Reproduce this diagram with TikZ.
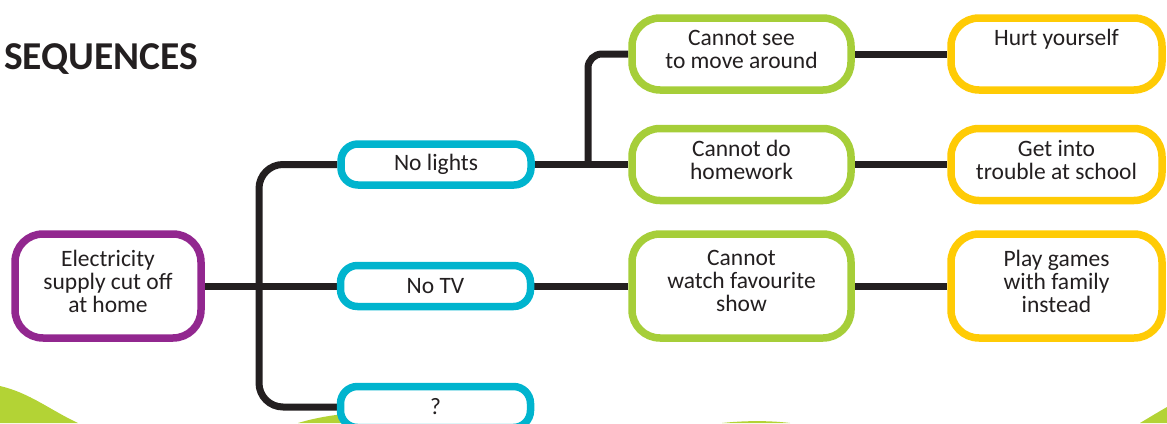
\documentclass[tikz,border=0pt]{standalone}
\usepackage{fontspec}
\setmainfont{Carlito}
\usetikzlibrary{backgrounds,shadows}
\definecolor{cpurple}{HTML}{92278F}
\definecolor{ccyan}{HTML}{00B4CE}
\definecolor{cgreen}{HTML}{A6CE39}
\definecolor{cyellow}{HTML}{FFCB05}
\definecolor{cline}{HTML}{231F20}
\definecolor{cblob}{HTML}{B3D335}
\begin{document}
\begin{tikzpicture}[x=1pt,y=-1pt,
  box/.style={draw, line width=7.5pt, fill=white, align=center,
    font=\fontsize{23.5}{23}\selectfont, text=cline, inner sep=0pt,
    drop shadow={opacity=0.22, shadow xshift=2pt, shadow yshift=-2pt}},
  multi/.style={text depth=10pt},
  purplebox/.style={box, multi, draw=cpurple, minimum width=186pt, minimum height=104pt, rounded corners=28pt},
  bluebox/.style={box, draw=ccyan, minimum width=190pt, minimum height=41pt, rounded corners=17pt},
  greenbox/.style={box, multi, draw=cgreen, minimum width=219pt, minimum height=72pt, rounded corners=28pt},
  yellowbox/.style={box, multi, draw=cyellow, minimum width=211pt, minimum height=72pt, rounded corners=28pt},
  link/.style={draw=cline, line width=7pt},
  blob/.style={fill=cblob, draw=none}]
\useasboundingbox (0,0) rectangle (1167,423);

\node[anchor=base west, inner sep=0pt, text=cline,
  font=\fontsize{39.5}{42}\selectfont\bfseries] (title) at (4,69) {SEQUENCES};

\node[purplebox] (e) at (108,286) {Electricity\\supply cut off\\at home};
\node[bluebox] (nl) at (436,164.5) {No lights};
\node[bluebox] (tv) at (435.5,286) {No TV};
\node[bluebox] (q) at (435.5,407) {?};
\node[greenbox] (see) at (741.5,54) {Cannot see\\to move around};
\node[greenbox] (hw) at (741.5,164.5) {Cannot do\\homework};
\node[greenbox, minimum height=104pt] (watch) at (741.5,286) {Cannot\\watch favourite\\show};
\node[yellowbox] (hurt) at (1056.5,54) {Hurt yourself\\\mbox{}};
\node[yellowbox] (trouble) at (1056.5,164.5) {Get into\\trouble at school};
\node[yellowbox, minimum height=104pt] (play) at (1056.5,286) {Play games\\with family\\instead};

\coordinate (trunk) at (259,286);
\coordinate (branch) at (588,164.5);

\begin{scope}[on background layer]
  \fill[blob] (0,386) .. controls (30,393) and (50,410) .. (78,423) -- (0,423) -- cycle;
  \fill[blob] (298,423) .. controls (315,418) and (335,414) .. (360,413) -- (360,423) -- cycle;
  \fill[blob] (722,423) .. controls (745,420.5) and (770,420.5) .. (790,423) -- cycle;
  \fill[blob] (1140,423) .. controls (1150,417) and (1160,411) .. (1167,407) -- (1167,423) -- cycle;
  \draw[link] (e.east) -- (tv.west);
  \draw[link, rounded corners=24pt] (nl.west) -| (trunk) |- (q.west);
  \draw[link] (nl.east) -- (hw.west);
  \draw[link, rounded corners=14pt] (branch) |- (see.west);
  \draw[link] (see.east) -- (hurt.west);
  \draw[link] (hw.east) -- (trouble.west);
  \draw[link] (tv.east) -- (watch.west);
  \draw[link] (watch.east) -- (play.west);
\end{scope}
\end{tikzpicture}
\end{document}
